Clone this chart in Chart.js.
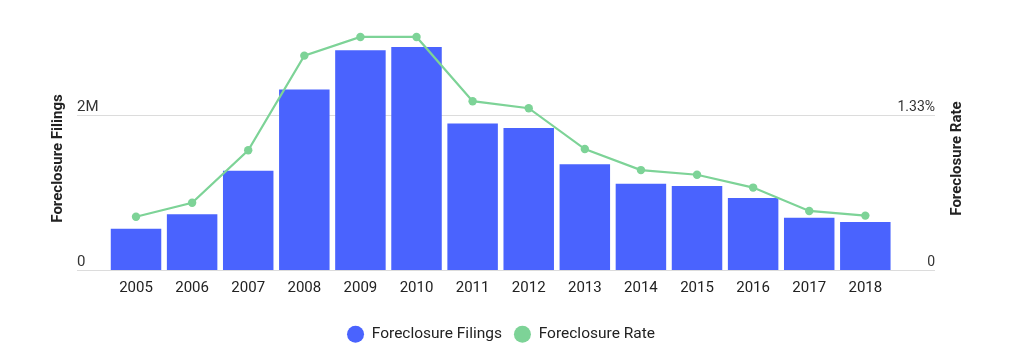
<!DOCTYPE html>
<html>
<head>
<meta charset="utf-8">
<script src="https://cdn.jsdelivr.net/npm/chart.js@4"></script>
<style>
  html, body { margin: 0; padding: 0; background: #fff; }
  #wrap { width: 1024px; height: 360px; position: relative; }
</style>
</head>
<body>
<div id="wrap"><canvas id="c"></canvas></div>
<script>
const years = ['2005','2006','2007','2008','2009','2010','2011','2012','2013','2014','2015','2016','2017','2018'];
const filings = [538000, 723000, 1286000, 2331000, 2835000, 2877000, 1892000, 1836000, 1368000, 1118000, 1088000, 933000, 680000, 624000];
const ratePct = [0.46, 0.58, 1.03, 1.84, 2.00, 2.00, 1.45, 1.39, 1.04, 0.86, 0.82, 0.71, 0.51, 0.47];
const leftTicks = [0, 2000000];
const leftTickLabels = ['0', '2M'];
const rightTicks = [0, 1.33];
const rightTickLabels = ['0', '1.33%'];
const seriesNames = ['Foreclosure Filings', 'Foreclosure Rate'];
const leftTitle = 'Foreclosure Filings';
const rightTitle = 'Foreclosure Rate';

const BLUE = '#4a63fe';
const GREEN = '#7dd397';
const FONT = 'Roboto, "Noto Sans", sans-serif';

// Axis titles drawn rotated -90deg (both read bottom-to-top, as in the reference)
const axisTitlePlugin = {
  id: 'axisTitles',
  afterLayout(chart) {
    if (chart.legend) { chart.legend.left -= 11; chart.legend.right -= 11; }
  },
  afterDraw(chart) {
    const ctx = chart.ctx;
    const yl = chart.scales.y;
    const zeroY = yl.getPixelForValue(0);
    const cy = zeroY - 112;
    const draw = (text, x) => {
      ctx.save();
      ctx.font = 'bold 15px ' + FONT;
      ctx.fillStyle = '#222';
      ctx.textAlign = 'center';
      ctx.textBaseline = 'middle';
      ctx.translate(x, cy);
      ctx.rotate(-Math.PI / 2);
      ctx.fillText(text, 0, 0);
      ctx.restore();
    };
    draw(leftTitle, 58);
    draw(rightTitle, 957);
  }
};

new Chart(document.getElementById('c'), {
  type: 'bar',
  data: {
    datasets: [
      {
        type: 'line',
        label: seriesNames[1],
        data: ratePct.map((v, i) => ({x: i, y: v})),
        yAxisID: 'y1',
        borderColor: GREEN,
        backgroundColor: GREEN,
        borderWidth: 2.2,
        pointRadius: 4.2,
        pointHoverRadius: 4.2,
        pointBackgroundColor: GREEN,
        pointBorderWidth: 0,
        tension: 0,
        order: 0
      },
      {
        type: 'bar',
        label: seriesNames[0],
        data: filings.map((v, i) => ({x: i, y: v})),
        yAxisID: 'y',
        backgroundColor: BLUE,
        borderWidth: 0,
        categoryPercentage: 1.0,
        barPercentage: 0.9,
        order: 1
      }
    ]
  },
  options: {
    responsive: true,
    maintainAspectRatio: false,
    animation: false,
    layout: { padding: { top: 20, bottom: 8, left: 0, right: 0 } },
    plugins: {
      legend: {
        position: 'bottom',
        reverse: true,
        labels: {
          usePointStyle: true,
          pointStyle: 'circle',
          boxHeight: 12,
          pointStyleWidth: 17,
          padding: 12,
          color: '#222',
          font: { family: FONT, size: 15.5 }
        }
      },
      tooltip: { enabled: false }
    },
    scales: {
      x: {
        type: 'linear',
        min: -1.052,
        max: 14.242,
        offset: false,
        grid: { display: false, drawTicks: false, offset: false },
        border: { display: false },
        afterBuildTicks(scale) {
          scale.ticks = years.map((y, i) => ({ value: i }));
        },
        afterFit(scale) { scale.height += 8; },
        ticks: {
          autoSkip: false,
          maxRotation: 0,
          padding: 9,
          color: '#222',
          font: { family: FONT, size: 15 },
          callback: (v) => years[v]
        }
      },
      y: {
        position: 'left',
        min: 0,
        max: 3225800,
        afterBuildTicks(scale) {
          scale.ticks = leftTicks.map(v => ({ value: v }));
        },
        afterFit(scale) { scale.width = 77; },
        grid: { color: '#dcdcdc', drawTicks: false, lineWidth: 1 },
        border: { display: false },
        ticks: {
          mirror: true,
          padding: 0,
          labelOffset: -8,
          color: '#333',
          font: { family: FONT, size: 15 },
          callback: (v) => leftTickLabels[leftTicks.indexOf(v)]
        }
      },
      y1: {
        position: 'right',
        min: 0,
        max: 2.1452,
        afterBuildTicks(scale) {
          scale.ticks = rightTicks.map(v => ({ value: v }));
        },
        afterFit(scale) { scale.width = 89; },
        grid: { drawOnChartArea: false, drawTicks: false },
        border: { display: false },
        ticks: {
          mirror: true,
          padding: 0,
          labelOffset: -8,
          color: '#333',
          font: { family: FONT, size: 14 },
          callback: (v) => rightTickLabels[rightTicks.indexOf(v)]
        }
      }
    }
  },
  plugins: [axisTitlePlugin]
});
</script>
</body>
</html>
